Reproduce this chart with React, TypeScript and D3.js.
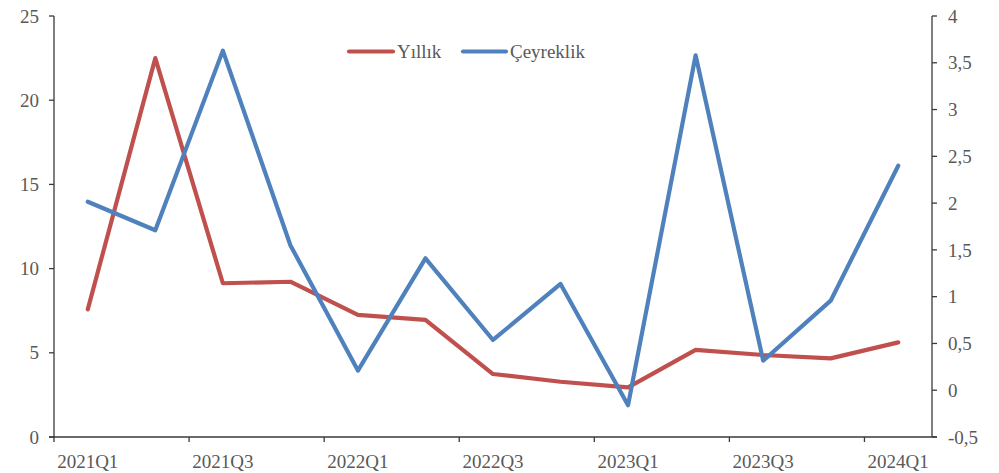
import React from "react";
import * as d3 from "d3";

const categories = [
  "2021Q1", "2021Q2", "2021Q3", "2021Q4",
  "2022Q1", "2022Q2", "2022Q3", "2022Q4",
  "2023Q1", "2023Q2", "2023Q3", "2023Q4",
  "2024Q1",
];
const yillik = [7.58, 22.5, 9.13, 9.22, 7.25, 6.95, 3.74, 3.28, 2.95, 5.17, 4.87, 4.67, 5.62];
const ceyreklik = [2.015, 1.71, 3.63, 1.55, 0.21, 1.41, 0.537, 1.136, -0.16, 3.58, 0.316, 0.957, 2.4];
const leftTicks = [0, 5, 10, 15, 20, 25];
const rightTicks = [-0.5, 0, 0.5, 1, 1.5, 2, 2.5, 3, 3.5, 4];
const xLabelCats = ["2021Q1", "2021Q3", "2022Q1", "2022Q3", "2023Q1", "2023Q3", "2024Q1"];
const seriesNames = ["Yıllık", "Çeyreklik"];

const W = 999;
const H = 473;
const left = 54;
const right = 932;
const top = 16;
const bottom = 437;
const FONT = "'Liberation Serif', 'Times New Roman', serif";
const TEXT = "#595959";
const AXIS = "#3a3a3a";
const RED = "#C0504D";
const BLUE = "#4F81BD";

export default function App() {
  const x = d3.scaleBand<string>().domain(categories).range([left, right]).padding(0);
  const yL = d3.scaleLinear().domain([0, 25]).range([bottom, top]);
  const yR = d3.scaleLinear().domain([-0.5, 4]).range([bottom, top]);
  const cx = (c: string) => (x(c) as number) + x.bandwidth() / 2;

  const lineL = d3.line<number>().x((_, i) => cx(categories[i])).y((d) => yL(d));
  const lineR = d3.line<number>().x((_, i) => cx(categories[i])).y((d) => yR(d));

  const fmt = (v: number) => String(v).replace(".", ",");
  const boundaries = categories.map((_, i) => i).filter((i) => i % 2 === 0).map((i) => x(categories[i]) as number);

  return (
    <svg width={W} height={H} style={{ position: "absolute", left: 0, top: 0, background: "#fff" }}>
      {/* axes lines */}
      <line x1={left} x2={left} y1={top} y2={bottom} stroke={AXIS} strokeWidth={1.3} />
      <line x1={right} x2={right} y1={top} y2={bottom} stroke={AXIS} strokeWidth={1.3} />
      <line x1={left - 5} x2={right + 5} y1={bottom} y2={bottom} stroke={AXIS} strokeWidth={1.3} />
      {leftTicks.map((t) => (
        <g key={"l" + t}>
          <line x1={left - 5} x2={left} y1={yL(t)} y2={yL(t)} stroke={AXIS} strokeWidth={1.3} />
          <text x={39} y={yL(t)} dy="0.35em" textAnchor="end" fontFamily={FONT} fontSize={19} fill={TEXT}>
            {t}
          </text>
        </g>
      ))}
      {rightTicks.map((t) => (
        <g key={"r" + t}>
          <line x1={right} x2={right + 5} y1={yR(t)} y2={yR(t)} stroke={AXIS} strokeWidth={1.3} />
          <text x={948} y={yR(t)} dy="0.35em" textAnchor="start" fontFamily={FONT} fontSize={19} fill={TEXT}>
            {fmt(t)}
          </text>
        </g>
      ))}
      {boundaries.map((b, i) => (
        <line key={"xt" + i} x1={b} x2={b} y1={bottom} y2={bottom + 5} stroke={AXIS} strokeWidth={1.3} />
      ))}
      {xLabelCats.map((c) => (
        <text key={c} x={cx(c)} y={461} dy="0.35em" textAnchor="middle" fontFamily={FONT} fontSize={19} fill={TEXT}>
          {c}
        </text>
      ))}
      {/* series */}
      <path d={lineL(yillik) || ""} fill="none" stroke={RED} strokeWidth={4.2} strokeLinejoin="round" strokeLinecap="round" />
      <path d={lineR(ceyreklik) || ""} fill="none" stroke={BLUE} strokeWidth={4.2} strokeLinejoin="round" strokeLinecap="round" />
      {/* legend */}
      <line x1={349} x2={393} y1={51.5} y2={51.5} stroke={RED} strokeWidth={4.2} strokeLinecap="round" />
      <text x={397} y={51.5} dy="0.35em" fontFamily={FONT} fontSize={19} fill={TEXT}>{seriesNames[0]}</text>
      <line x1={463} x2={506} y1={51.5} y2={51.5} stroke={BLUE} strokeWidth={4.2} strokeLinecap="round" />
      <text x={510} y={51.5} dy="0.35em" fontFamily={FONT} fontSize={19} fill={TEXT}>{seriesNames[1]}</text>
    </svg>
  );
}
